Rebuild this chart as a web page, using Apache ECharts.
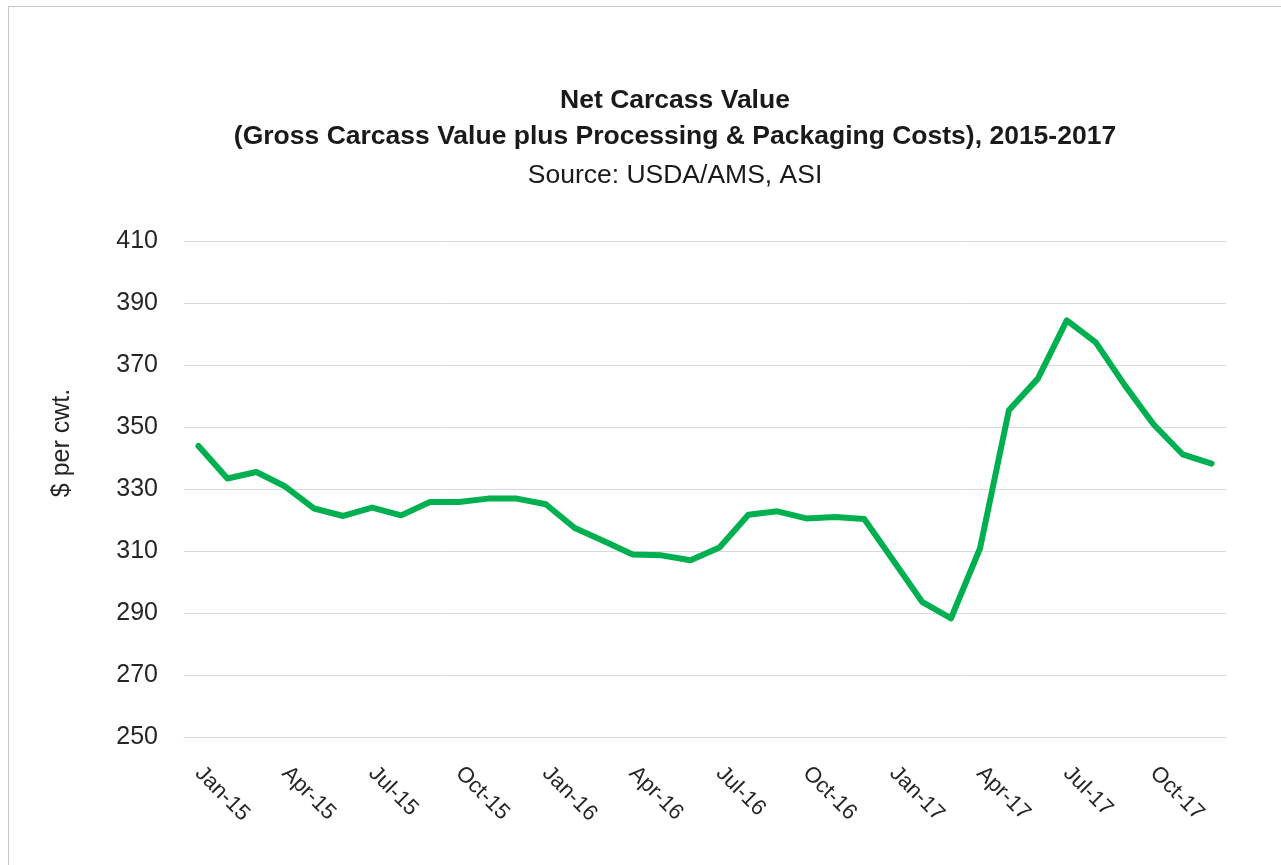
<!DOCTYPE html>
<html>
<head>
<meta charset="utf-8">
<title>Net Carcass Value</title>
<script src="https://cdn.jsdelivr.net/npm/echarts@6/dist/echarts.min.js"></script>
<style>
  html, body { margin: 0; padding: 0; background: #fff; }
  #chart { width: 1281px; height: 865px; }
</style>
</head>
<body>
<div id="chart"></div>
<script>
// monthly categories Jan-15 .. Dec-17
const months = ['Jan', 'Feb', 'Mar', 'Apr', 'May', 'Jun', 'Jul', 'Aug', 'Sep', 'Oct', 'Nov', 'Dec']
const years = ['15', '16', '17']
const categories = []
years.forEach(function (y) {
  months.forEach(function (m) { categories.push(m + '-' + y) })
})

// $ per cwt
const netCarcassValue = [
  343.9, 333.4, 335.5, 330.8, 323.7, 321.3, 324.0, 321.5, 325.8, 325.8, 326.9, 326.9,
  325.1, 317.4, 313.2, 308.9, 308.6, 307.0, 311.1, 321.7, 322.8, 320.5, 321.0, 320.3,
  307.0, 293.6, 288.3, 310.8, 355.4, 365.6, 384.4, 377.3, 363.5, 350.8, 341.2, 338.2
]

const yMin = 250
const yMax = 410
const yStep = 20

const fontFamily = '"Liberation Sans", Arial, sans-serif'

const chart = echarts.init(document.getElementById('chart'))

chart.setOption({
  backgroundColor: '#fff',
  animation: false,
  textStyle: { fontFamily: fontFamily },
  graphic: [
    {
      type: 'rect',
      shape: { x: 8.5, y: 6.5, width: 1400, height: 1000 },
      style: { fill: 'none', stroke: '#c6c6c6', lineWidth: 1 },
      silent: true
    },
    {
      // y axis title, sits a bit above the plot's middle like the original
      type: 'text',
      x: 62, y: 443,
      rotation: Math.PI / 2,
      style: {
        text: '$ per cwt.',
        fontSize: 25,
        fontFamily: fontFamily,
        fill: '#262626',
        align: 'center',
        verticalAlign: 'middle'
      },
      silent: true
    }
  ],
  title: [
    {
      text: 'Net Carcass Value',
      left: 670, top: 82, textAlign: 'center',
      textStyle: { fontSize: 26.5, fontWeight: 'bold', color: '#1a1a1a', fontFamily: fontFamily }
    },
    {
      text: '(Gross Carcass Value plus Processing & Packaging Costs), 2015-2017',
      left: 670, top: 118, textAlign: 'center',
      textStyle: { fontSize: 26.5, fontWeight: 'bold', color: '#1a1a1a', fontFamily: fontFamily }
    },
    {
      text: 'Source: USDA/AMS, ASI',
      left: 670, top: 157, textAlign: 'center',
      textStyle: { fontSize: 26.5, fontWeight: 'normal', color: '#1a1a1a', fontFamily: fontFamily }
    }
  ],
  grid: {
    left: 184,
    right: 55,
    top: 241,
    bottom: 128
  },
  xAxis: {
    type: 'category',
    data: categories,
    boundaryGap: true,
    axisLine: { lineStyle: { color: '#d9d9d9', width: 1 } },
    axisTick: { show: false },
    axisLabel: {
      interval: 2,
      rotate: -45,
      align: 'left',
      verticalAlign: 'middle',
      margin: 33,
      fontSize: 22,
      color: '#262626'
    },
    splitLine: { show: false }
  },
  yAxis: {
    type: 'value',
    min: yMin,
    max: yMax,
    interval: yStep,
    axisLine: { show: false },
    axisTick: { show: false },
    axisLabel: { margin: 26, fontSize: 25, color: '#262626' },
    splitLine: { lineStyle: { color: '#d9d9d9', width: 1 } }
  },
  series: [{
    name: 'Net Carcass Value',
    type: 'line',
    data: netCarcassValue,
    symbol: 'none',
    lineStyle: { color: '#00b050', width: 6, cap: 'round', join: 'round' },
    itemStyle: { color: '#00b050' }
  }]
})
</script>
</body>
</html>
